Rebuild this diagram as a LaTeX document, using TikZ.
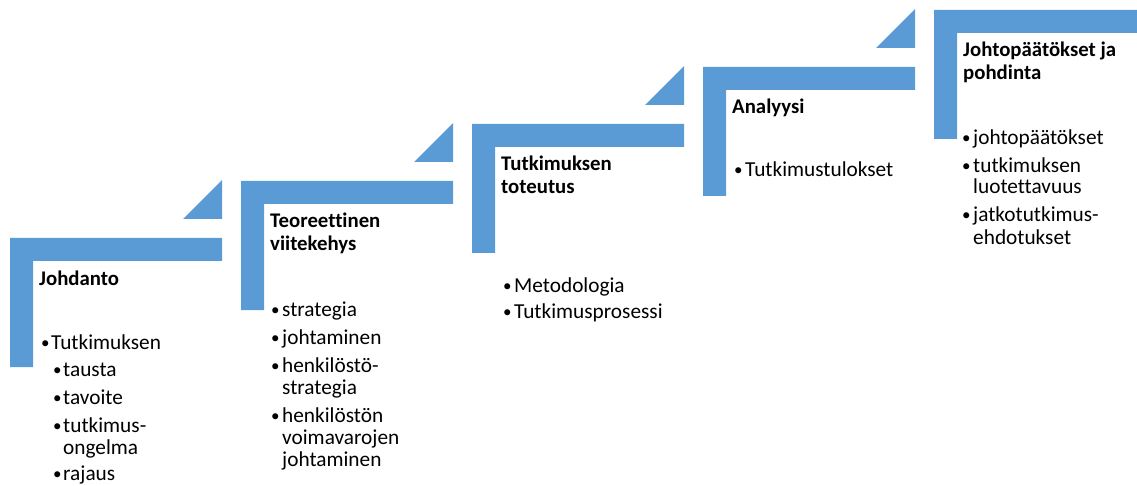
\documentclass[tikz,border=0pt]{standalone}
\usepackage{fontspec}
\setmainfont{Carlito}[Ligatures=NoCommon]
\definecolor{stepblue}{HTML}{5B9BD5}
\tikzset{
  stepbar/.style={fill=stepblue, draw=none},
  ttl/.style={anchor=base west, inner sep=0pt, font=\fontsize{20.8}{22}\selectfont\bfseries},
  itm/.style={anchor=base west, inner sep=0pt, font=\fontsize{21.3}{22}\selectfont},
  dot/.style={anchor=base west, inner sep=0pt, font=\fontsize{17}{22}\selectfont},
}
\begin{document}
\begin{tikzpicture}[x=1pt,y=-1pt]
\useasboundingbox (0,0) rectangle (1137,486);

% L-shaped steps and the small corner triangles
\foreach \i in {0,...,4} {
  \pgfmathsetmacro\L{10+231*\i}
  \pgfmathsetmacro\T{238-57*\i}
  \pgfmathsetmacro\R{min(\L+212,1137)}
  \pgfmathsetmacro\B{\T+129}
  \fill[stepbar] (\L,\T) -- (\R,\T) -- (\R,\T+23) -- (\L+23,\T+23)
                 -- (\L+23,\B) -- (\L,\B) -- cycle;
  \ifnum\i<4
    \fill[stepbar] (\R-39,\T-19) -- (\R,\T-19) -- (\R,\T-58) -- cycle;
  \fi
}

% Step 1
\node[ttl] (t1) at (39,285) {Johdanto};
\node[dot] (b1a) at (41,348) {•};  \node[itm] (i1a) at (51,349) {Tutkimuksen};
\node[dot] (b1b) at (53,375) {•};  \node[itm] (i1b) at (63,376) {tausta};
\node[dot] (b1c) at (53,403) {•};  \node[itm] (i1c) at (63,404) {tavoite};
\node[dot] (b1d) at (53,431) {•};  \node[itm] (i1d) at (63,432) {tutkimus-};
                                   \node[itm] (i1e) at (63,454) {ongelma};
\node[dot] (b1f) at (53,479) {•};  \node[itm] (i1f) at (63,480) {rajaus};

% Step 2
\node[ttl] (t2a) at (270,228) {Teoreettinen};
\node[ttl] (t2b) at (270,251) {viitekehys};
\node[dot] (b2a) at (271,315) {•};  \node[itm] (i2a) at (282,316) {strategia};
\node[dot] (b2b) at (271,343) {•};  \node[itm] (i2b) at (282,344) {johtaminen};
\node[dot] (b2c) at (271,371) {•};  \node[itm] (i2c) at (282,372) {henkilöstö-};
                                    \node[itm] (i2d) at (282,394) {strategia};
\node[dot] (b2e) at (271,421) {•};  \node[itm] (i2e) at (282,422) {henkilöstön};
                                    \node[itm] (i2f) at (282,444) {voimavarojen};
                                    \node[itm] (i2g) at (282,466) {johtaminen};

% Step 3
\node[ttl] (t3a) at (501,171) {Tutkimuksen};
\node[ttl] (t3b) at (501,194) {toteutus};
\node[dot] (b3a) at (503,291) {•};  \node[itm] (i3a) at (514,292) {Metodologia};
\node[dot] (b3b) at (503,317) {•};  \node[itm] (i3b) at (514,318) {Tutkimusprosessi};

% Step 4
\node[ttl] (t4) at (732,114) {Analyysi};
\node[dot] (b4a) at (734,176) {•};  \node[itm] (i4a) at (745,177) {Tutkimustulokset};

% Step 5
\node[ttl] (t5a) at (963,57) {Johtopäätökset ja};
\node[ttl] (t5b) at (963,80) {pohdinta};
\node[dot] (b5a) at (962,144) {•};  \node[itm] (i5a) at (973,145) {johtopäätökset};
\node[dot] (b5b) at (962,172) {•};  \node[itm] (i5b) at (973,173) {tutkimuksen};
                                    \node[itm] (i5c) at (973,194) {luotettavuus};
\node[dot] (b5d) at (962,221) {•};  \node[itm] (i5d) at (973,222) {jatkotutkimus-};
                                    \node[itm] (i5e) at (973,244) {ehdotukset};
\end{tikzpicture}
\end{document}
